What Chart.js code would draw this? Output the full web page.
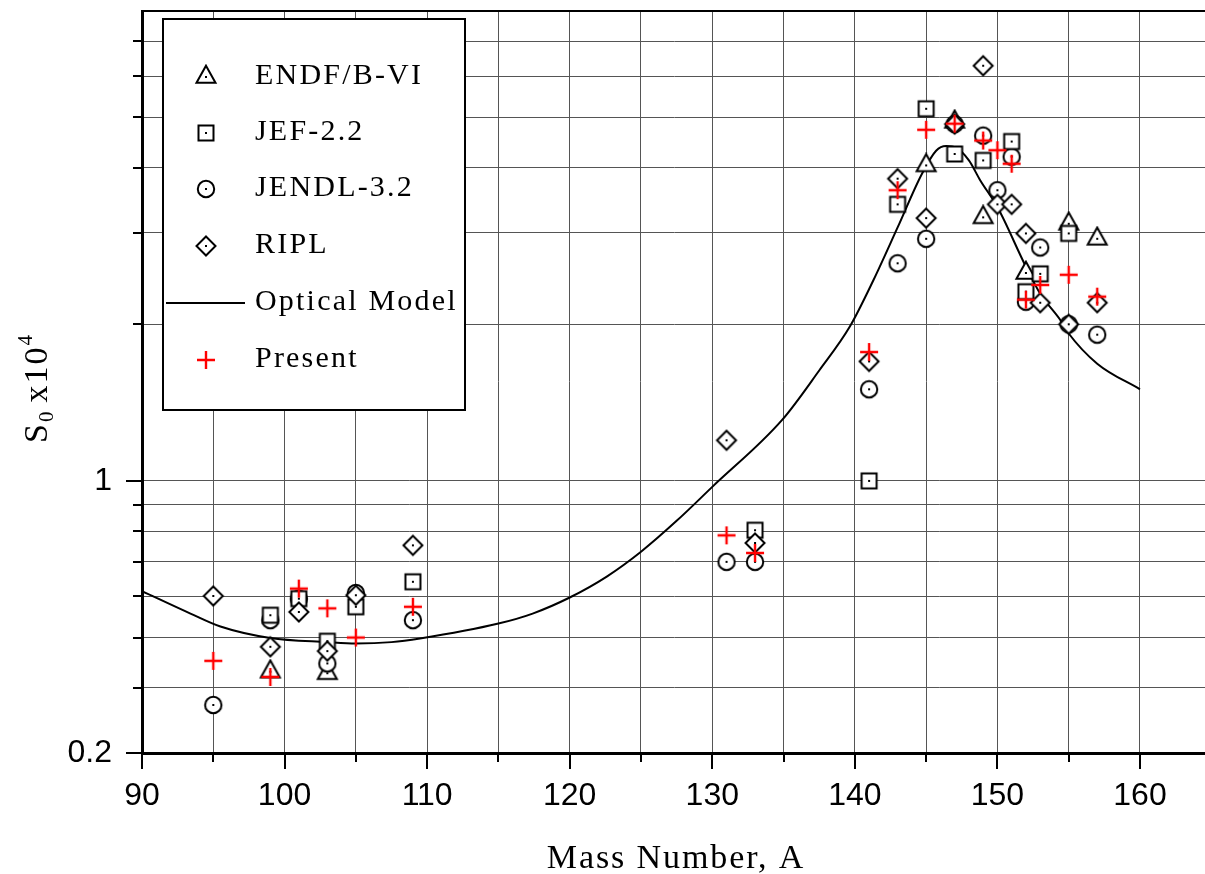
<!DOCTYPE html>
<html>
<head>
<meta charset="utf-8">
<title>S0 strength function</title>
<script src="https://cdn.jsdelivr.net/npm/chart.js@4.4.1/dist/chart.umd.min.js"></script>
<style>
  html, body { margin: 0; padding: 0; background: #fff; overflow: hidden; }
  #chart { display: block; }
</style>
</head>
<body>
<canvas id="chart" width="1205" height="874"></canvas>
<script>
// ── Data ───────────────────────────────────────────────────────────────
const endfMass = [99, 103, 145, 147, 149, 152, 155, 157];
const endfS0   = [0.43, 0.427, 4.04, 4.9, 3.21, 2.51, 3.12, 2.92];

const jefMass = [99, 101, 103, 105, 109, 133, 141, 143, 145, 147, 149, 151, 152, 153, 155];
const jefS0   = [0.552, 0.594, 0.492, 0.573, 0.64, 0.804, 1.0, 3.4, 5.19, 4.25, 4.13, 4.49, 2.31, 2.5, 2.99];

const jendlMass = [95, 99, 101, 103, 105, 109, 131, 133, 141, 143, 145, 147, 149, 150, 151, 152, 153, 155, 157];
const jendlS0   = [0.371, 0.54, 0.594, 0.446, 0.609, 0.54, 0.699, 0.699, 1.5, 2.62, 2.92, 4.85, 4.61, 3.62, 4.2, 2.21, 2.81, 2.0, 1.91];

const riplMass = [95, 99, 101, 103, 105, 109, 131, 133, 141, 143, 145, 147, 149, 150, 151, 152, 153, 155, 157];
const riplS0   = [0.601, 0.48, 0.56, 0.471, 0.603, 0.752, 1.197, 0.76, 1.697, 3.81, 3.2, 4.85, 6.28, 3.4, 3.4, 2.99, 2.2, 2.0, 2.2];

const presentMass = [95, 99, 101, 103, 105, 109, 131, 133, 141, 143, 145, 147, 149, 150, 151, 152, 153, 155, 157];
const presentS0   = [0.451, 0.42, 0.621, 0.569, 0.5, 0.573, 0.786, 0.727, 1.769, 3.62, 4.73, 4.86, 4.51, 4.32, 4.07, 2.23, 2.38, 2.49, 2.26];

const omMass = [90, 93.4, 95.5, 99, 103, 105, 107.5, 109.5, 115, 117.4, 120, 122.6, 125, 127.5, 130,
                134.9, 137.5, 139.65, 141.3, 143, 144.7, 145.7, 146.4, 147.1, 148, 148.8, 150, 152, 153,
                154.4, 155, 157, 160];
const omS0   = [0.614, 0.556, 0.525, 0.499, 0.49, 0.487, 0.49, 0.498, 0.532, 0.556, 0.597, 0.655, 0.731, 0.838, 0.974,
                1.31, 1.63, 1.98, 2.43, 3.07, 3.89, 4.31, 4.4, 4.37, 4.13, 3.78, 3.36, 2.58, 2.29,
                2.04, 1.92, 1.68, 1.5];

const xTickValues = [90, 95, 100, 105, 110, 115, 120, 125, 130, 135, 140, 145, 150, 155, 160];
const xTickText   = ["90", "", "100", "", "110", "", "120", "", "130", "", "140", "", "150", "", "160"];
const yTickValues = [0.3, 0.4, 0.5, 0.6, 0.7, 0.8, 0.9, 1, 2, 3, 4, 5, 6, 7];
const yTickText   = ["0.2", "", "", "", "", "", "", "1", "", "", "", "", "", ""];

const legendLabels = ["ENDF/B-VI", "JEF-2.2", "JENDL-3.2", "RIPL", "Optical Model", "Present"];

// ── Markers ────────────────────────────────────────────────────────────
function makeMarker(kind) {
    const s = 26, m = s / 2;
    const c = document.createElement("canvas");
    c.width = c.height = s;
    const g = c.getContext("2d");
    g.lineWidth = 2;
    g.strokeStyle = "#000";
    g.fillStyle = "#fff";
    g.beginPath();
    if (kind === "triangle") {
        const h = 17, w = 19;
        g.moveTo(m, m - h * 2 / 3);
        g.lineTo(m + w / 2, m + h / 3);
        g.lineTo(m - w / 2, m + h / 3);
        g.closePath();
    } else if (kind === "square") {
        g.rect(m - 7.5, m - 7.5, 15, 15);
    } else if (kind === "circle") {
        g.arc(m, m, 8.2, 0, Math.PI * 2);
    } else if (kind === "diamond") {
        g.moveTo(m, m - 9.5); g.lineTo(m + 9.5, m); g.lineTo(m, m + 9.5); g.lineTo(m - 9.5, m);
        g.closePath();
    } else if (kind === "cross") {
        g.strokeStyle = "#ff0000";
        g.lineWidth = 2.4;
        g.moveTo(m - 9, m); g.lineTo(m + 9, m);
        g.moveTo(m, m - 9); g.lineTo(m, m + 9);
        g.stroke();
        return c;
    }
    g.fill();
    g.stroke();
    g.fillStyle = "#000";
    g.fillRect(m - 1, m - 1, 2, 2);
    return c;
}

const MK = {
    triangle: makeMarker("triangle"),
    square:   makeMarker("square"),
    circle:   makeMarker("circle"),
    diamond:  makeMarker("diamond"),
    cross:    makeMarker("cross"),
};

function pts(xs, ys) { return xs.map((a, i) => ({ x: a, y: ys[i] })); }

const tickFont = { family: "'Liberation Sans', Arial, sans-serif", size: 32 };
const SERIF = "'Liberation Serif', 'Times New Roman', serif";

// no automatic label overflow padding: the plot box is fixed by hand
function fixBox(s, size) {
    if (s.isHorizontal()) s.height = size; else s.width = size;
    s.paddingTop = s.paddingBottom = s.paddingLeft = s.paddingRight = 0;
}

// ── Decorations: ticks, legend, axis titles ────────────────────────────
const decor = {
    id: "decor",
    beforeDraw(chart) {
        const { ctx } = chart;
        ctx.save();
        ctx.fillStyle = "#fff";
        ctx.fillRect(0, 0, chart.width, chart.height);
        ctx.restore();
    },
    afterDraw(chart) {
        const { ctx, chartArea: ca, scales } = chart;
        const xs = scales.x, ys = scales.y;
        ctx.save();
        ctx.strokeStyle = "#000";

        // top frame
        ctx.lineWidth = 2;
        ctx.beginPath();
        ctx.moveTo(ca.left, ca.top);
        ctx.lineTo(ca.right, ca.top);
        ctx.stroke();

        // tick marks
        ctx.lineWidth = 2;
        ctx.beginPath();
        yTickValues.forEach((v, i) => {
            const py = Math.round(ys.getPixelForValue(v));
            const len = yTickText[i] ? 16 : 9;
            ctx.moveTo(ca.left - len, py);
            ctx.lineTo(ca.left, py);
        });
        xTickValues.forEach((v, i) => {
            const px = Math.round(xs.getPixelForValue(v));
            const len = xTickText[i] ? 16 : 9;
            ctx.moveTo(px, ca.bottom);
            ctx.lineTo(px, ca.bottom + len);
        });
        ctx.stroke();

        // legend box
        const lx = 163, ly = 19, lw = 302, lh = 391;
        ctx.fillStyle = "#fff";
        ctx.fillRect(lx, ly, lw, lh);
        ctx.lineWidth = 2;
        ctx.strokeRect(lx, ly, lw, lh);

        const symX = 206, textX = 255;
        const rowsY = [77, 133, 189, 246, 303, 360];
        const icons = [MK.triangle, MK.square, MK.circle, MK.diamond, null, MK.cross];
        ctx.font = `30px ${SERIF}`;
        ctx.letterSpacing = "2.2px";
        ctx.fillStyle = "#000";
        ctx.textAlign = "left";
        ctx.textBaseline = "middle";
        legendLabels.forEach((lab, i) => {
            const cy = rowsY[i];
            if (icons[i]) {
                const im = icons[i];
                ctx.drawImage(im, Math.round(symX - im.width / 2), Math.round(cy - im.height / 2));
            } else {
                ctx.lineWidth = 2;
                ctx.beginPath();
                ctx.moveTo(166, cy);
                ctx.lineTo(245, cy);
                ctx.stroke();
            }
            ctx.fillText(lab, textX, cy - 1);
        });

        // x title
        ctx.font = `34px ${SERIF}`;
        ctx.letterSpacing = "1.9px";
        ctx.textAlign = "center";
        ctx.textBaseline = "alphabetic";
        ctx.fillText("Mass Number, A", 676, 868);

        // y title: S0 x10^4, rotated
        const parts = [
            { t: "S",   size: 34, dv: 0 },
            { t: "0",   size: 21, dv: 6 },
            { t: " ",   size: 20, dv: 0 },
            { t: "x10", size: 34, dv: 0 },
            { t: "4",   size: 21, dv: -15 },
        ];
        ctx.letterSpacing = "2px";
        ctx.textAlign = "left";
        let total = 0;
        parts.forEach(p => {
            ctx.font = `${p.size}px ${SERIF}`;
            p.w = ctx.measureText(p.t).width;
            total += p.w;
        });
        ctx.translate(47, 388 + total / 2);
        ctx.rotate(-Math.PI / 2);
        let u = 0;
        parts.forEach(p => {
            ctx.font = `${p.size}px ${SERIF}`;
            ctx.fillText(p.t, u, p.dv);
            u += p.w;
        });
        ctx.restore();
    }
};

// ── Chart ──────────────────────────────────────────────────────────────
const markerSet = (label, xs, ys, img, order) => ({
    label,
    data: pts(xs, ys),
    pointStyle: img,
    pointRadius: 10,
    pointHoverRadius: 10,
    showLine: false,
    order,
});

new Chart(document.getElementById("chart"), {
    type: "scatter",
    data: {
        datasets: [
            {
                label: "Optical Model",
                data: pts(omMass, omS0),
                showLine: true,
                borderColor: "#000",
                borderWidth: 2,
                pointRadius: 0,
                cubicInterpolationMode: "monotone",
                fill: false,
                order: 6,
            },
            markerSet("ENDF/B-VI", endfMass, endfS0, MK.triangle, 5),
            markerSet("JENDL-3.2", jendlMass, jendlS0, MK.circle, 4),
            markerSet("JEF-2.2", jefMass, jefS0, MK.square, 3),
            markerSet("RIPL", riplMass, riplS0, MK.diamond, 2),
            markerSet("Present", presentMass, presentS0, MK.cross, 1),
        ]
    },
    options: {
        responsive: false,
        animation: false,
        events: [],
        layout: { autoPadding: false, padding: { left: 0, top: 11, right: 0, bottom: 0 } },
        plugins: { legend: { display: false }, tooltip: { enabled: false } },
        scales: {
            x: {
                type: "linear",
                min: 90,
                max: 164.56,
                afterBuildTicks: s => { s.ticks = xTickValues.map(v => ({ value: v })); },
                afterFit: s => fixBox(s, 121),
                ticks: {
                    autoSkip: false,
                    maxRotation: 0,
                    padding: 24,
                    color: "#000",
                    font: tickFont,
                    callback: (v, i) => xTickText[i],
                },
                grid: { color: "#555", lineWidth: 1, drawTicks: false },
                border: { color: "#000", width: 3 },
            },
            y: {
                type: "logarithmic",
                min: 0.3,
                max: 8,
                afterBuildTicks: s => { s.ticks = yTickValues.map(v => ({ value: v })); },
                afterFit: s => fixBox(s, 142),
                ticks: {
                    autoSkip: false,
                    padding: 30,
                    color: "#000",
                    font: tickFont,
                    callback: (v, i) => yTickText[i],
                },
                grid: { color: "#555", lineWidth: 1, drawTicks: false },
                border: { color: "#000", width: 3 },
            }
        }
    },
    plugins: [decor]
});
</script>
</body>
</html>
